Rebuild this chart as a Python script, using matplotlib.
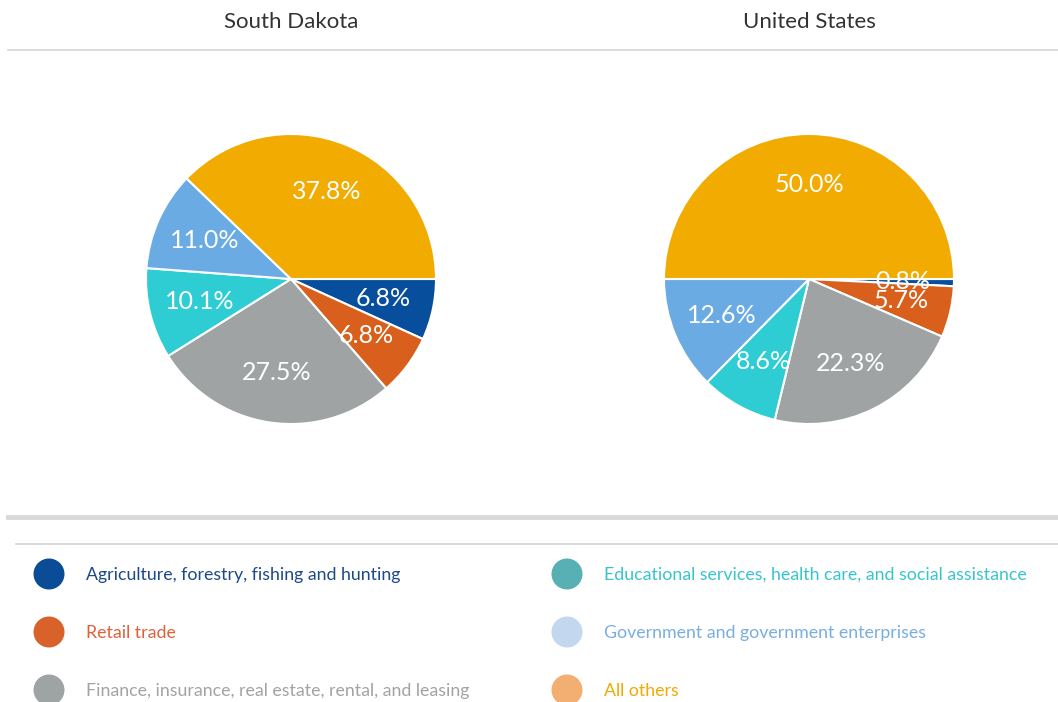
import matplotlib.pyplot as plt
from matplotlib.patches import Circle

plt.rcParams["font.family"] = ["Lato", "DejaVu Sans"]

# data
categories = ['Agriculture, forestry, fishing and hunting', 'Retail trade',
              'Finance, insurance, real estate, rental, and leasing',
              'Educational services, health care, and social assistance',
              'Government and government enterprises', 'All others']
regions = ['South Dakota', 'United States']
south_dakota = [6.8, 6.8, 27.5, 10.1, 11.0, 37.8]
united_states = [0.8, 5.7, 22.3, 8.6, 12.6, 50.0]

pie_colors = ['#074f9c', '#d9601c', '#9fa3a3', '#2ecdd3', '#6aabe3', '#f2ab00']
marker_colors = ['#0b4c97', '#d9622a', '#9ea3a3', '#58b0b5', '#c3d7ef', '#f3ae72']
text_colors = ['#1d4a87', '#e0603a', '#a3a3a3', '#38c4cf', '#78aee0', '#f2a900']

W, H = 1058, 702
fig = plt.figure(figsize=(W / 100, H / 100), dpi=100)

# overlay axes in pixel coordinates
bg = fig.add_axes([0, 0, 1, 1])
bg.set_xlim(0, W)
bg.set_ylim(H, 0)
bg.axis('off')

# pies
centers = [(291, 279), (809, 279)]
r = 145
pad = 1.1
for (cx, cy), vals, name in zip(centers, [south_dakota, united_states], regions):
    half = r * pad
    ax = fig.add_axes([(cx - half) / W, (H - cy - half) / H, 2 * half / W, 2 * half / H])
    ax.pie(vals, colors=pie_colors, startangle=0, counterclock=False,
           autopct='%.1f%%', pctdistance=0.65,
           wedgeprops=dict(edgecolor='white', linewidth=1.5),
           textprops=dict(color='white', fontsize=18))
    ax.set_xlim(-pad, pad)
    ax.set_ylim(-pad, pad)
    bg.text(cx, 22, name, ha='center', va='center', fontsize=16, color='#333333')

# separator lines
bg.plot([8, W], [50, 50], color='#d4d4d4', lw=1.2)
bg.plot([8, W], [517, 517], color='#d9d9d9', lw=3.5)
bg.plot([16, W], [544, 544], color='#d4d4d4', lw=1.2)

# legend
cols = [(49, 86), (567, 604)]
rows = [574, 632, 690]
for i, (cat, mc, tc) in enumerate(zip(categories, marker_colors, text_colors)):
    mx, tx = cols[i // 3]
    y = rows[i % 3]
    bg.add_patch(Circle((mx, y), 15.5, color=mc, lw=0))
    bg.text(tx, y + 1, cat, ha='left', va='center', fontsize=12.8, color=tc)

fig.savefig('out.png', dpi=100)
